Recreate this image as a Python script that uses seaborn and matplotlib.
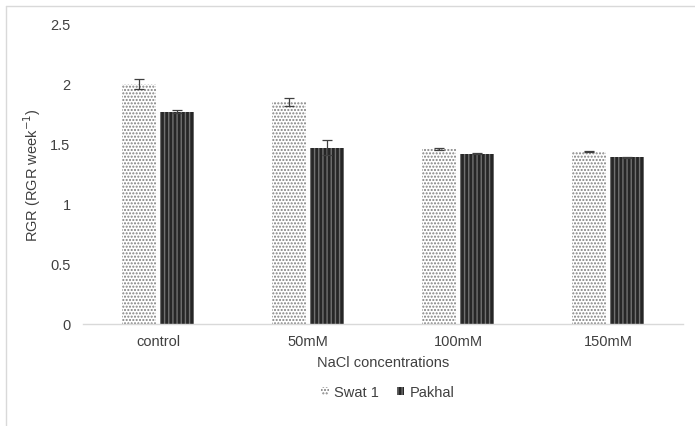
import matplotlib
matplotlib.use("Agg")
import matplotlib.pyplot as plt
import seaborn as sns
import pandas as pd
from matplotlib.lines import Line2D
from matplotlib.patches import Patch

# Relative growth rate under salt stress
concentrations = ["control", "50mM", "100mM", "150mM"]
varieties = ["Swat 1", "Pakhal"]
swat1_rgr = [2.00, 1.85, 1.46, 1.44]
swat1_err = [0.045, 0.035, 0.006, 0.005]
pakhal_rgr = [1.77, 1.47, 1.42, 1.39]
pakhal_err = [0.010, 0.060, 0.006, 0.003]
y_ticks = [0, 0.5, 1, 1.5, 2, 2.5]
y_tick_labels = ["0", "0.5", "1", "1.5", "2", "2.5"]

df = pd.DataFrame({
    "conc": concentrations * 2,
    "variety": [varieties[0]] * 4 + [varieties[1]] * 4,
    "rgr": swat1_rgr + pakhal_rgr,
    "err": swat1_err + pakhal_err,
})

sns.set_theme(style="white")
plt.rcParams["font.family"] = ["Liberation Sans", "DejaVu Sans"]
plt.rcParams["hatch.linewidth"] = 1.0

TEXT = "#404040"
FS = 10.5

W, H = 695, 427
fig = plt.figure(figsize=(W / 100, H / 100), dpi=100)
ax = fig.add_axes([83 / W, 1 - 325 / H, 600 / W, 300 / H])

sns.barplot(data=df, x="conc", y="rgr", hue="variety", order=concentrations,
            hue_order=varieties, width=0.51, gap=0.11, errorbar=None,
            legend=False, ax=ax)

styles = {
    "Swat 1": dict(face="#ffffff", hatch_col="#808080", hatch="....."),
    "Pakhal": dict(face="#262626", hatch_col="#707070", hatch="||||"),
}

bars = ax.patches[:8]
for i, bar in enumerate(bars):
    var = varieties[i // 4]
    st = styles[var]
    bar.set_facecolor(st["face"])
    bar.set_edgecolor(st["hatch_col"])
    bar.set_hatch(st["hatch"])
    bar.set_linewidth(0)
    row = df.iloc[i]
    cx = bar.get_x() + bar.get_width() / 2
    ax.errorbar(cx, row["rgr"], yerr=row["err"], fmt="none",
                ecolor="#404040", elinewidth=0.9, capsize=3.5, capthick=0.9)

ax.set_xlim(-0.5, len(concentrations) - 0.5)
ax.set_ylim(0, 2.5)
ax.set_yticks(y_ticks)
ax.set_yticklabels(y_tick_labels)
ax.tick_params(axis="both", length=0, labelsize=FS, labelcolor=TEXT)
ax.tick_params(axis="y", pad=9)
ax.tick_params(axis="x", pad=7)

for side in ["top", "right", "left"]:
    ax.spines[side].set_visible(False)
ax.spines["bottom"].set_color("#d9d9d9")
ax.spines["bottom"].set_linewidth(1)

ax.set_xlabel("NaCl concentrations", fontsize=FS, color=TEXT, labelpad=5)
ax.set_ylabel("RGR (RGR week$^{-1}$)", fontsize=FS, color=TEXT)
ax.yaxis.set_label_coords(-0.067, 0.5)

handles = [
    Patch(facecolor=styles[v]["face"], edgecolor=styles[v]["hatch_col"],
          hatch=styles[v]["hatch"], linewidth=0)
    for v in varieties
]
fig.legend(handles, varieties, loc="center", bbox_to_anchor=(388 / W, 1 - 393 / H),
           ncol=2, frameon=False, fontsize=FS, labelcolor=TEXT,
           handlelength=0.5, handleheight=0.5, handletextpad=0.4, columnspacing=1.2)

# light frame around the chart area
fig.add_artist(Line2D([6 / W, 6 / W], [0, 1 - 7 / H], transform=fig.transFigure,
                      color="#d9d9d9", linewidth=1))
fig.add_artist(Line2D([6 / W, 1], [1 - 7 / H, 1 - 7 / H], transform=fig.transFigure,
                      color="#d9d9d9", linewidth=1))

fig.savefig("out.png", dpi=100, facecolor="white")
